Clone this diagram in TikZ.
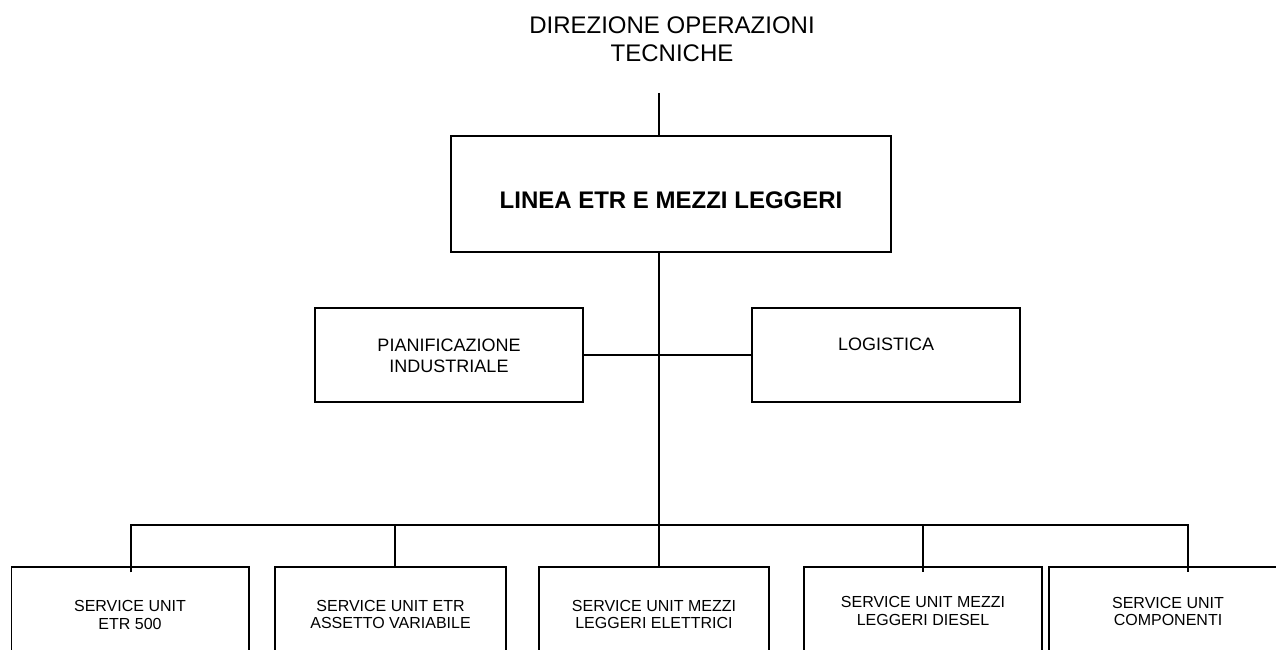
\documentclass[tikz,border=0pt]{standalone}
\usepackage{fontspec}
\setmainfont{Liberation Sans}
\begin{document}
\begin{tikzpicture}[x=1pt,y=-1pt,
  box/.style={draw=black, line width=1.4pt, rectangle, inner sep=0pt},
  conn/.style={draw=black, line width=1.4pt},
  big/.style={font=\fontsize{24}{27.6}\selectfont, align=center, inner sep=0pt},
  bigbold/.style={font=\fontsize{24}{27.6}\selectfont\bfseries, align=center, inner sep=0pt},
  mid/.style={font=\fontsize{18}{21}\selectfont, align=center, inner sep=0pt},
  small/.style={font=\fontsize{16}{17.5}\selectfont, align=center, inner sep=0pt}]
\useasboundingbox (0,0) rectangle (1276,650);
\fill[white] (0,0) rectangle (1276,650);
\clip (0,0) rectangle (1276,650);

% title
\node[big] (dir) at (672,39) {DIREZIONE OPERAZIONI\\TECNICHE};

% main box
\node[box, minimum width=440pt, minimum height=116pt] (main) at (671,194) {};
\node[bigbold] (maintxt) at (671,200) {LINEA ETR E MEZZI LEGGERI};

% staff boxes
\node[box, minimum width=268pt, minimum height=94pt] (pian) at (449,355) {};
\node[mid] (piantxt) at (449,355.5) {PIANIFICAZIONE\\INDUSTRIALE};
\node[box, minimum width=268pt, minimum height=94pt] (logi) at (886,355) {};
\node[mid] (logitxt) at (886,344) {LOGISTICA};

% bottom boxes
\node[box, minimum width=237.5pt, minimum height=123pt] (b1) at (130.25,628.5) {};
\node[small] (b1txt) at (130,615) {SERVICE UNIT\\ETR 500};
\node[box, minimum width=231pt, minimum height=123pt] (b2) at (390.5,628.5) {};
\node[small] (b2txt) at (390.5,614.5) {SERVICE UNIT ETR\\ASSETTO VARIABILE};
\node[box, minimum width=230pt, minimum height=123pt] (b3) at (654,628.5) {};
\node[small] (b3txt) at (654,614.5) {SERVICE UNIT MEZZI\\LEGGERI ELETTRICI};
\node[box, minimum width=238pt, minimum height=123pt] (b4) at (923,628.5) {};
\node[small] (b4txt) at (923,611) {SERVICE UNIT MEZZI\\LEGGERI DIESEL};
\node[box, minimum width=238pt, minimum height=123pt] (b5) at (1168,628.5) {};
\node[small] (b5txt) at (1168,611.5) {SERVICE UNIT\\COMPONENTI};

% connectors
\coordinate (topend) at (659,93);
\coordinate (busL) at (131,525);
\coordinate (busR) at (1188,525);
\coordinate (d2) at (395,525);
\coordinate (d4) at (923,525);

\draw[conn] (topend) -- (topend |- main.north);
\draw[conn] (main.south -| topend) -- (b3.north -| topend);
\draw[conn] (pian.east) -- (logi.west);
\draw[conn] ([yshift=-6pt]busL |- b1.north) -- (busL) -- (busR) -- ([yshift=-6pt]busR |- b5.north);
\draw[conn] (d2) -- (d2 |- b2.north);
\draw[conn] (d4) -- ([yshift=-6pt]d4 |- b4.north);
\end{tikzpicture}
\end{document}
